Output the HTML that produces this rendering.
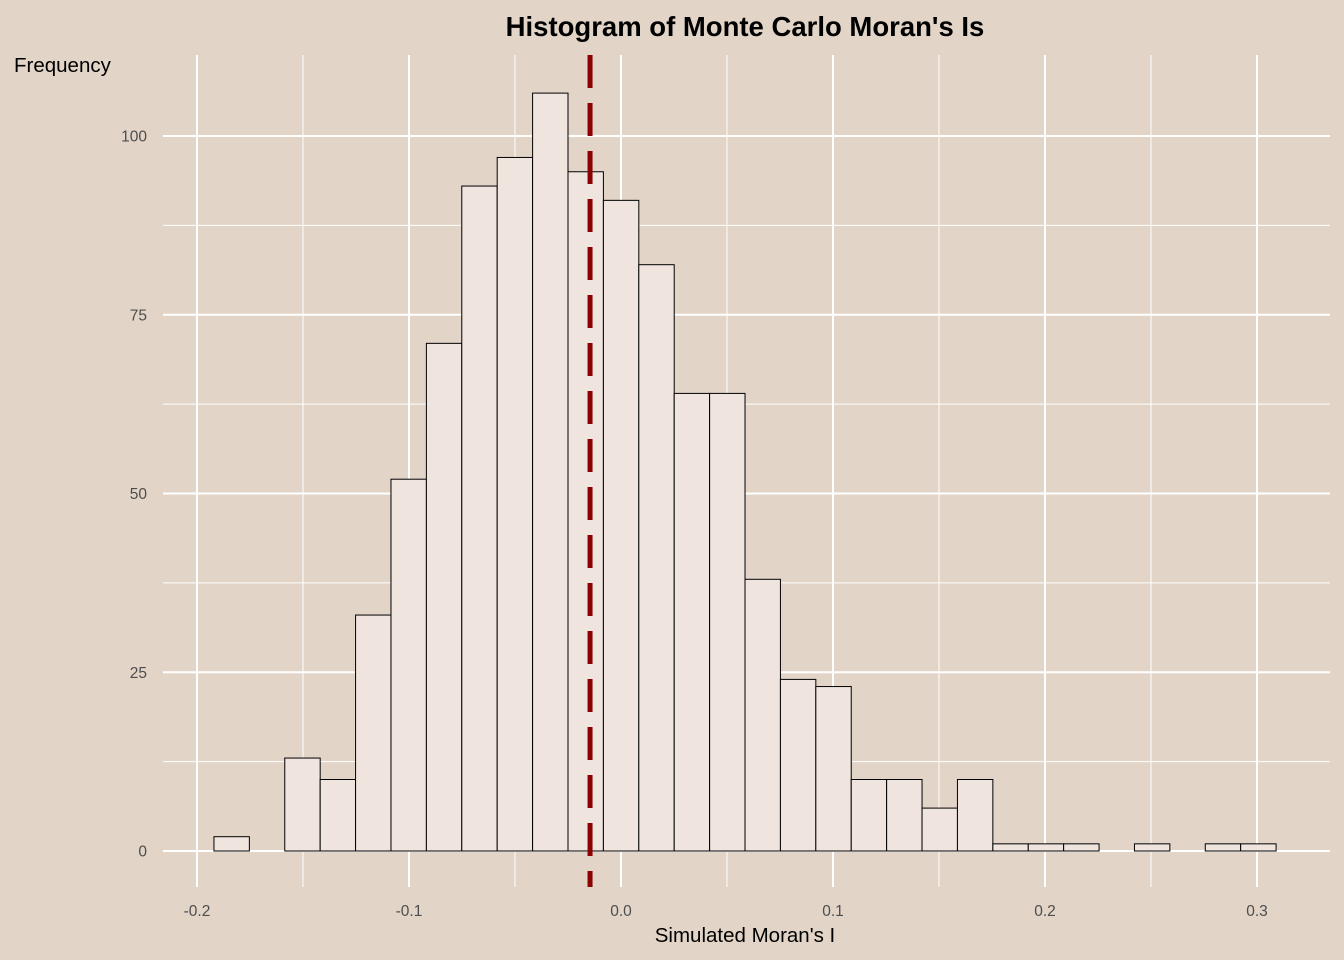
<!DOCTYPE html>
<html><head><meta charset="utf-8"><style>
html,body{margin:0;padding:0;background:#e2d5c8;}
svg{display:block;font-family:"Liberation Sans",Arial,sans-serif;}
</style></head><body>
<svg id="chart" width="1344" height="960" viewBox="0 0 1344 960">
<rect x="0" y="0" width="1344" height="960" fill="#e2d5c8"/>
<text x="745" y="36" text-anchor="middle" font-size="27.5" font-weight="bold" fill="#000">Histogram of Monte Carlo Moran's Is</text>
<text x="14" y="72" font-size="20.5" fill="#000">Frequency</text>
<text x="745" y="942" text-anchor="middle" font-size="20.5" fill="#000">Simulated Moran's I</text>
<g id="grid"></g><g id="bars"></g><g id="ticks"></g><g id="refline"></g>
</svg>
<script>
const counts=[2,0,13,10,33,52,71,93,97,106,95,91,82,64,64,38,24,23,10,10,6,10,1,1,1,0,1,0,1,1];
const binStart=-0.192;
const binWidth=0.0167;
const xTicks=[-0.2,-0.1,0.0,0.1,0.2,0.3];
const xTickLabels=["-0.2","-0.1","0.0","0.1","0.2","0.3"];
const yTicks=[0,25,50,75,100];
const observedI=-0.0146;
const NS='http://www.w3.org/2000/svg';
const x=v=>621+v*2120;
const y=v=>851-v*7.15;
const L=163,R=1330,T=55,B=887;
function mk(t,a,p){const e=document.createElementNS(NS,t);for(const k in a)e.setAttribute(k,a[k]);p.appendChild(e);return e;}
const grid=document.getElementById('grid'),bars=document.getElementById('bars'),tk=document.getElementById('ticks'),rl=document.getElementById('refline');
xTicks.forEach((v,i)=>{
 const l=mk('line',{x1:x(v),x2:x(v),y1:T,y2:B,stroke:'#fff','stroke-width':2},grid);
 
 
 if(i<xTicks.length-1){const m=(v+xTicks[i+1])/2;
  const ml=mk('line',{x1:x(m),x2:x(m),y1:T,y2:B,stroke:'#fff','stroke-width':1},grid);
  
  }
 const t=mk('text',{x:x(v),y:916,'text-anchor':'middle','font-size':15.5,fill:'#4d4d4d'},tk);
 t.textContent=xTickLabels[i];
 
 
});
yTicks.forEach((v,i)=>{
 const l=mk('line',{x1:L,x2:R,y1:y(v),y2:y(v),stroke:'#fff','stroke-width':2},grid);
 
 
 if(i<yTicks.length-1){const m=v+12.5;
 const ml=mk('line',{x1:L,x2:R,y1:y(m),y2:y(m),stroke:'#fff','stroke-width':1},grid);
 
 }
 const t=mk('text',{x:147,y:y(v)+5.5,'text-anchor':'end','font-size':15.5,fill:'#4d4d4d'},tk);
 t.textContent=String(v);
 
 
});
counts.forEach((c,i)=>{
 if(c<=0)return;
 const x0=x(binStart+i*binWidth),x1=x(binStart+(i+1)*binWidth);
 const r=mk('rect',{x:x0,y:y(c),width:x1-x0,height:y(0)-y(c),fill:'#efe5de',stroke:'#000','stroke-width':1},bars);
 
 
});
const d=mk('line',{x1:x(observedI),x2:x(observedI),y1:T,y2:B,stroke:'#8b0000','stroke-width':5,'stroke-dasharray':'33 15'},rl);


</script>
</body></html>
